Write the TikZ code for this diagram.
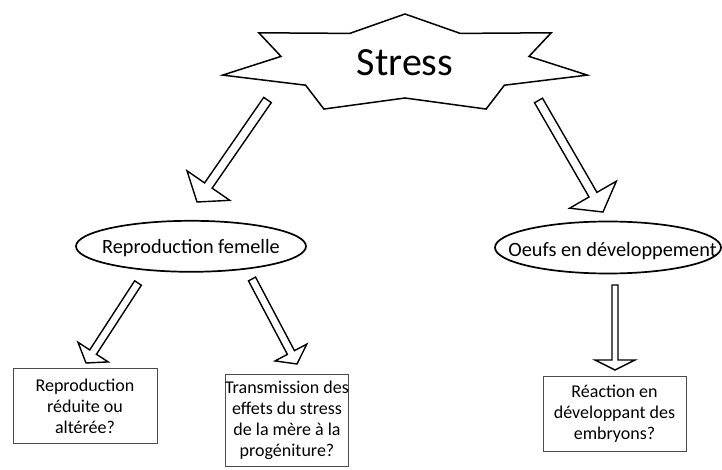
\documentclass[tikz,border=0pt]{standalone}
\usepackage{fontspec}
\setmainfont{Carlito}
\usetikzlibrary{calc,shapes.geometric}

\tikzset{
  starline/.style={draw=black, line width=1.5pt, line join=miter, fill=white},
  startext/.style={font=\fontsize{40}{48}\selectfont, inner sep=0pt, anchor=base},
  oval/.style={ellipse, draw=black, line width=1.7pt, inner sep=0pt},
  ovaltext/.style={font=\fontsize{20.3}{24}\selectfont, inner sep=0pt, anchor=base},
  qbox/.style={rectangle, draw=black!70, line width=0.9pt, align=center,
    font=\fontsize{18}{21}\selectfont, inner sep=0pt},
  hollow/.style={draw=black, fill=white, line width=1.4pt, line join=miter},
}

% Hollow block arrow from tail #1 to tip #2:
% #3 half shaft width, #4 half head width, #5 head length
\newcommand\hollowarrow[5]{%
  \coordinate (hb) at ($(#2)!#5!(#1)$);
  \draw[hollow] ($(#1)!#3!90:(#2)$) -- ($(hb)!#3!90:(#2)$)
    -- ($(hb)!#4!90:(#2)$) -- (#2) -- ($(hb)!#4!-90:(#2)$)
    -- ($(hb)!#3!-90:(#2)$) -- ($(#1)!#3!-90:(#2)$) -- cycle;
}

\begin{document}
\begin{tikzpicture}[x=1pt,y=-1pt]
\useasboundingbox (0,0) rectangle (722,470);

% seven-pointed star
\draw[starline] (405,14) -- (460.2,33.4) -- (551.2,32.8) -- (529.0,56.4)
  -- (587.3,75.1) -- (504.4,85.2) -- (486.1,109.05) -- (405,98)
  -- (323.9,109.05) -- (305.6,85.2) -- (222.7,75.1) -- (281.0,56.4)
  -- (258.8,32.8) -- (349.8,33.4) -- cycle;
\node[startext] (stress) at (405,76) {Stress};

% ovals
\node[oval, minimum width=230pt, minimum height=51pt] (femelle) at (191,246.3) {};
\node[ovaltext] (femelletext) at (191,253.3) {Reproduction femelle};
\node[oval, minimum width=226pt, minimum height=52pt] (oeufs) at (608,247.5) {};
\node[ovaltext] (oeufstext) at (612.5,256) {Oeufs en développement};

% question boxes
\node[qbox, minimum width=144pt, minimum height=75pt] (reduite) at (85,406)
  {Reproduction\\réduite ou\\altérée?};
\node[qbox, minimum width=122pt, minimum height=92pt] (transmission) at (287,420)
  {Transmission des\\effets du stress\\de la mère à la\\progéniture?};
\node[qbox, minimum width=143pt, minimum height=75pt] (reaction) at (614.5,413.5)
  {Réaction en\\développant des\\embryons?};

% arrow end points
\coordinate (a1s) at (267.5,100);
\coordinate (a1e) at (197,202);
\coordinate (a2s) at (538.5,100.5);
\coordinate (a2e) at (603,212);
\coordinate (a3s) at (138,283);
\coordinate (a3e) at (86,363);
\coordinate (a4s) at (252,279);
\coordinate (a4e) at (297,364);
\coordinate (a5s) at (615,285);
\coordinate (a5e) at (615,370);

\hollowarrow{a1s}{a1e}{4.6pt}{26pt}{20pt}
\hollowarrow{a2s}{a2e}{4.6pt}{27pt}{20pt}
\hollowarrow{a3s}{a3e}{4pt}{18pt}{13pt}
\hollowarrow{a4s}{a4e}{4pt}{18pt}{13pt}
\hollowarrow{a5s}{a5e}{3pt}{20pt}{10pt}
\end{tikzpicture}
\end{document}
